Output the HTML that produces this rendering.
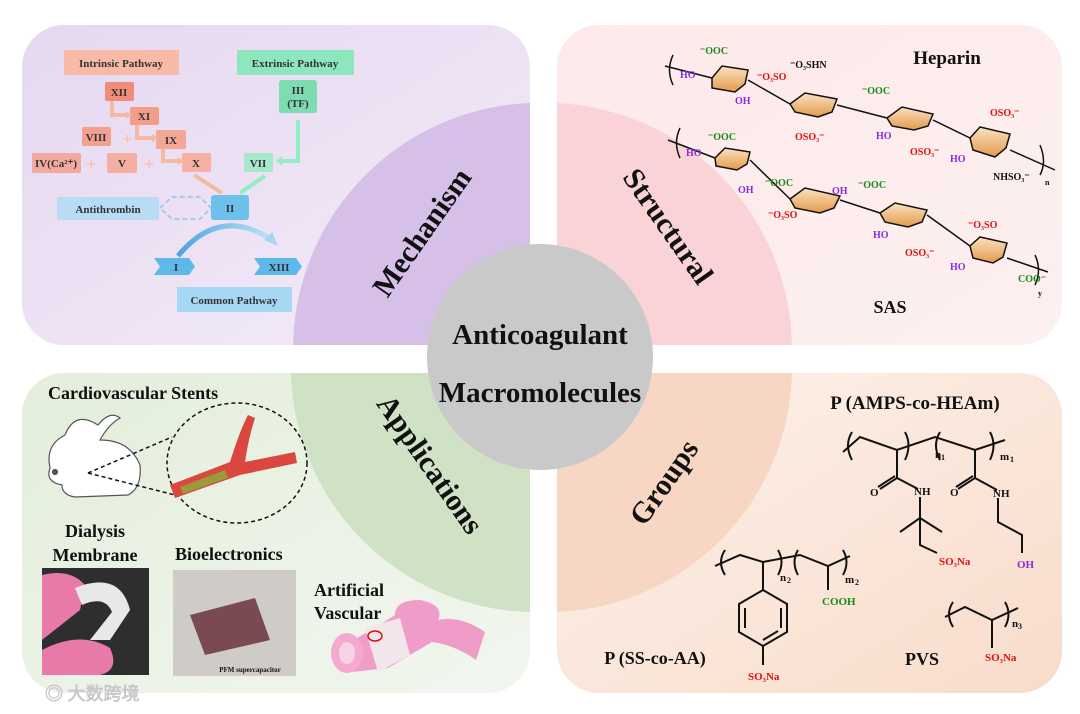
<!DOCTYPE html>
<html><head><meta charset="utf-8"><style>
html,body{margin:0;padding:0;background:#fff;}
svg{display:block;}
text{font-family:"Liberation Serif",serif;font-weight:bold;}
</style></head><body>
<svg width="1080" height="714" viewBox="0 0 1080 714" xmlns="http://www.w3.org/2000/svg">
<defs>
<linearGradient id="gp" x1="0" y1="0" x2="1" y2="1"><stop offset="0" stop-color="#e6d8f0"/><stop offset="1" stop-color="#f3ecf8"/></linearGradient>
<linearGradient id="gr" x1="0" y1="0" x2="1" y2="1"><stop offset="0" stop-color="#fde9e9"/><stop offset="1" stop-color="#fdf0f0"/></linearGradient>
<linearGradient id="gg" x1="0" y1="0" x2="1" y2="1"><stop offset="0" stop-color="#e3eedb"/><stop offset="1" stop-color="#f2f6ef"/></linearGradient>
<linearGradient id="go" x1="0" y1="0" x2="1" y2="1"><stop offset="0" stop-color="#fdf2ec"/><stop offset="1" stop-color="#f8dcca"/></linearGradient>
<linearGradient id="ring" x1="0" y1="0" x2="0" y2="1"><stop offset="0" stop-color="#fbe1c0"/><stop offset="1" stop-color="#e39a4c"/></linearGradient>
<linearGradient id="arc" x1="0" y1="0" x2="1" y2="0"><stop offset="0" stop-color="#4aa6e0"/><stop offset="1" stop-color="#bfe3f8"/></linearGradient>
</defs>
<rect width="1080" height="714" fill="#fff"/>
<!-- panels -->
<rect x="22" y="25" width="508" height="320" rx="42" fill="url(#gp)"/>
<rect x="557" y="25" width="505" height="320" rx="42" fill="url(#gr)"/>
<rect x="22" y="373" width="508" height="320" rx="42" fill="url(#gg)"/>
<rect x="557" y="373" width="505" height="320" rx="42" fill="url(#go)"/>
<!-- quarter circles -->
<path d="M530 345 L293 345 A247 247 0 0 1 530 103 Z" fill="#d7c0e8"/>
<path d="M557 345 L557 103 A247 247 0 0 1 792 345 Z" fill="#fad3d6"/>
<path d="M530 373 L530 612 A245 245 0 0 1 291 373 Z" fill="#cfe2c5"/>
<path d="M557 373 L792 373 A245 245 0 0 1 557 612 Z" fill="#f7d7c3"/>
<circle cx="540" cy="357" r="113" fill="#c9c9c9"/>
<text x="540" y="344" font-size="29" text-anchor="middle" fill="#111">Anticoagulant</text>
<text x="540" y="402" font-size="29" text-anchor="middle" fill="#111">Macromolecules</text>
<text transform="translate(430,238) rotate(-55)" font-size="30" text-anchor="middle" fill="#111">Mechanism</text>
<text transform="translate(660,232) rotate(55)" font-size="30" text-anchor="middle" fill="#111">Structural</text>
<text transform="translate(422,470) rotate(55)" font-size="30" text-anchor="middle" fill="#111">Applications</text>
<text transform="translate(672,488) rotate(-55)" font-size="30" text-anchor="middle" fill="#111">Groups</text>

<!-- Mechanism -->
<g font-size="11" fill="#333">
<rect x="64" y="50" width="115" height="25" fill="#f9b9a7"/><text x="121" y="67" text-anchor="middle">Intrinsic Pathway</text>
<rect x="237" y="50" width="117" height="25" fill="#8ee6be"/><text x="295" y="67" text-anchor="middle">Extrinsic Pathway</text>
<rect x="105" y="82" width="29" height="19" rx="2" fill="#f08c78"/><text x="119" y="96" text-anchor="middle">XII</text>
<rect x="130" y="107" width="29" height="18" rx="2" fill="#f29e8a"/><text x="144" y="120" text-anchor="middle">XI</text>
<rect x="82" y="127" width="29" height="19" rx="2" fill="#f2a090"/><text x="96" y="141" text-anchor="middle">VIII</text>
<rect x="156" y="130" width="30" height="19" rx="2" fill="#f4a797"/><text x="171" y="144" text-anchor="middle">IX</text>
<rect x="32" y="153" width="49" height="20" rx="2" fill="#f2aaa0"/><text x="56" y="167" text-anchor="middle">IV(Ca²⁺)</text>
<rect x="107" y="153" width="30" height="20" rx="2" fill="#f4aea2"/><text x="122" y="167" text-anchor="middle">V</text>
<rect x="182" y="153" width="29" height="19" rx="2" fill="#f6b1a5"/><text x="196" y="167" text-anchor="middle">X</text>
<rect x="279" y="80" width="38" height="33" rx="3" fill="#7ddcb0"/><text x="298" y="94" text-anchor="middle">III</text><text x="298" y="107" text-anchor="middle">(TF)</text>
<rect x="244" y="153" width="29" height="19" rx="2" fill="#a5e8cb"/><text x="258" y="167" text-anchor="middle">VII</text>
<rect x="57" y="197" width="102" height="23" rx="2" fill="#b8dcf6"/><text x="108" y="213" text-anchor="middle">Antithrombin</text>
<rect x="211" y="195" width="38" height="25" rx="3" fill="#6cc0ec"/><text x="230" y="212" text-anchor="middle">II</text>
<path d="M154 258 H189 L195 266.5 L189 275 H154 L160 266.5 Z" fill="#5fb8ea"/><text x="176" y="271" text-anchor="middle">I</text>
<path d="M254 258 H296 L302 266.5 L296 275 H254 L260 266.5 Z" fill="#5fb8ea"/><text x="279" y="271" text-anchor="middle">XIII</text>
<rect x="177" y="287" width="115" height="25" fill="#a6d8f4"/><text x="234" y="304" text-anchor="middle">Common Pathway</text>
</g>
<g stroke="#f7b8a0" stroke-width="4" fill="none">
<path d="M112 101 V115 H126"/><path d="M137 125 V138 H152"/><path d="M163 149 V161 H178"/><path d="M194 175 L222 193"/>
</g>
<g fill="#f7b8a0"><path d="M126 111 L132 115 L126 119Z"/><path d="M152 134 L158 138 L152 142Z"/><path d="M178 157 L184 161 L178 165Z"/>
<text x="122" y="145" font-size="18" fill="#f9c0a8">+</text><text x="86" y="170" font-size="18" fill="#f9c0a8">+</text><text x="144" y="170" font-size="18" fill="#f9c0a8">+</text></g>
<g stroke="#90edc4" stroke-width="4" fill="none"><path d="M298 120 V161 H282"/><path d="M265 176 L240 193"/></g>
<path d="M282 156 L276 161 L282 166Z" fill="#90edc4"/>
<g stroke="#8ec6ef" stroke-width="1.5" fill="none" stroke-dasharray="5 3"><path d="M160 208 L172 197 H200 L211 208 L200 219 H172 Z"/></g>
<path d="M178 256 Q220 205 272 240" stroke="url(#arc)" stroke-width="5" fill="none"/>
<path d="M264 240 L278 246 L272 232Z" fill="#a8d6f4"/>

<!-- Structural -->
<g stroke="#111" stroke-width="1.5" fill="url(#ring)">
<path d="M712 78 L722 66 L748 70 L745 84 L735 92 L712 88 Z"/>
<path d="M790 104 L805 93 L837 99 L832 112 L818 117 L795 112 Z"/>
<path d="M887 118 L902 107 L933 114 L928 126 L914 130 L892 126 Z"/>
<path d="M970 138 L980 127 L1010 134 L1006 148 L995 157 L973 150 Z"/>
<path d="M715 158 L725 148 L750 152 L747 164 L737 170 L716 166 Z"/>
<path d="M790 199 L805 188 L840 196 L834 208 L820 213 L795 208 Z"/>
<path d="M880 213 L895 203 L927 210 L922 222 L908 227 L885 222 Z"/>
<path d="M970 246 L980 237 L1007 243 L1003 257 L993 263 L973 258 Z"/>
</g>
<g stroke="#111" stroke-width="1.5" fill="none">
<path d="M673 55 Q666 70 673 85"/><path d="M665 66 L712 78"/><path d="M748 80 L790 104"/><path d="M837 105 L887 118"/><path d="M933 120 L970 138"/><path d="M1010 150 L1055 170"/><path d="M1040 145 Q1047 162 1040 175"/>
<path d="M680 128 Q673 143 680 158"/><path d="M668 140 L715 158"/><path d="M750 160 L790 199"/><path d="M840 200 L880 213"/><path d="M927 215 L970 246"/><path d="M1007 258 L1048 272"/><path d="M1035 255 Q1042 270 1035 285"/>
</g>
<g font-size="10">
<text x="700" y="54" fill="#1a8a1a">⁻OOC</text><text x="680" y="78" fill="#8a2be2">HO</text><text x="735" y="104" fill="#8a2be2">OH</text>
<text x="757" y="80" fill="#e01010">⁻O₃SO</text><text x="790" y="68" fill="#111">⁻O₃SHN</text><text x="795" y="140" fill="#e01010">OSO₃⁻</text>
<text x="862" y="94" fill="#1a8a1a">⁻OOC</text><text x="876" y="139" fill="#8a2be2">HO</text><text x="910" y="155" fill="#e01010">OSO₃⁻</text>
<text x="990" y="116" fill="#e01010">OSO₃⁻</text><text x="950" y="162" fill="#8a2be2">HO</text><text x="993" y="180" fill="#111">NHSO₃⁻</text><text x="1045" y="185" fill="#111" font-size="8">n</text>
<text x="708" y="140" fill="#1a8a1a">⁻OOC</text><text x="686" y="156" fill="#8a2be2">HO</text><text x="738" y="193" fill="#8a2be2">OH</text>
<text x="765" y="186" fill="#1a8a1a">⁻OOC</text><text x="768" y="218" fill="#e01010">⁻O₃SO</text><text x="832" y="194" fill="#8a2be2">OH</text>
<text x="858" y="188" fill="#1a8a1a">⁻OOC</text><text x="873" y="238" fill="#8a2be2">HO</text><text x="905" y="256" fill="#e01010">OSO₃⁻</text>
<text x="968" y="228" fill="#e01010">⁻O₃SO</text><text x="950" y="270" fill="#8a2be2">HO</text><text x="1018" y="282" fill="#1a8a1a">COO⁻</text><text x="1038" y="296" fill="#111" font-size="8">y</text>
</g>
<text x="947" y="64" font-size="19" text-anchor="middle" fill="#111">Heparin</text>
<text x="890" y="313" font-size="18" text-anchor="middle" fill="#111">SAS</text>

<!-- Applications -->
<text x="48" y="399" font-size="18" fill="#111">Cardiovascular Stents</text>
<g stroke="#555" stroke-width="1.2" fill="#fff">
<path d="M50 468 Q45 445 65 435 Q75 410 98 425 Q110 410 120 418 Q108 425 100 440 Q130 440 140 465 Q142 488 128 495 L75 497 Q62 495 62 485 Q45 482 50 468 Z"/>
<circle cx="55" cy="472" r="2.5" fill="#555"/>
</g>
<g stroke="#111" stroke-width="1.5" stroke-dasharray="4 3" fill="none">
<ellipse cx="237" cy="463" rx="70" ry="60"/><path d="M88 473 L172 437"/><path d="M88 473 L175 495"/>
</g>
<path d="M170 485 L230 462 Q240 430 248 415 L255 418 Q248 440 245 462 L295 452 L297 463 L240 475 L175 498 Z" fill="#d9473e"/>
<path d="M180 487 L225 470 L228 478 L183 494 Z" fill="#9a9a3a"/>
<text x="95" y="537" font-size="18" text-anchor="middle" fill="#111">Dialysis</text>
<text x="95" y="561" font-size="18" text-anchor="middle" fill="#111">Membrane</text>
<rect x="42" y="568" width="107" height="107" fill="#2e2e2e"/>
<path d="M42 575 Q70 568 85 585 L80 610 L42 640 Z" fill="#e77aa8"/>
<path d="M42 650 Q80 630 110 648 Q120 670 100 675 L42 675 Z" fill="#e77aa8"/>
<path d="M75 588 Q120 570 130 610 L110 640 L90 640 L112 612 Q105 595 82 605 Z" fill="#e8e8e8"/>
<text x="175" y="560" font-size="18" fill="#111">Bioelectronics</text>
<rect x="173" y="570" width="123" height="106" fill="#cfcbc6"/>
<path d="M190 615 L255 598 L270 640 L205 655 Z" fill="#7a4a50"/>
<text x="250" y="672" font-size="7" font-family="Liberation Sans" text-anchor="middle" fill="#111">PFM supercapacitor</text>
<text x="314" y="596" font-size="18" fill="#111">Artificial</text>
<text x="314" y="619" font-size="18" fill="#111">Vascular</text>
<path d="M345 645 Q380 625 395 615 Q395 600 420 600 Q445 605 438 620 Q460 615 485 632 L476 660 Q455 645 432 642 L388 668 L352 672 Z" fill="#ef9cc8"/>
<path d="M365 628 L400 618 L410 655 L378 672 Z" fill="#f2e6ec"/>
<ellipse cx="347" cy="653" rx="16" ry="20" fill="#f5a8d0"/><ellipse cx="347" cy="653" rx="8" ry="11" fill="#f8d3e5"/>
<ellipse cx="375" cy="636" rx="7" ry="5" fill="none" stroke="#e01010" stroke-width="1.5"/>
<text x="45" y="700" font-size="18" font-family="Liberation Sans,Noto Sans CJK SC,sans-serif" fill="#c8c8c8" font-weight="normal">◎ 大数跨境</text>

<!-- Groups -->
<text x="915" y="409" font-size="19" text-anchor="middle" fill="#111">P (AMPS-co-HEAm)</text>
<g stroke="#111" stroke-width="2" fill="none">
<path d="M843 452 L860 437 L897 450 L935 437 L975 450 L1005 440"/>
<path d="M852 432 Q844 445 852 460"/><path d="M905 432 Q912 445 905 460"/><path d="M940 432 Q932 445 940 460"/><path d="M990 432 Q997 445 990 460"/>
<path d="M897 450 L897 478 L880 489"/><path d="M895 476 L878 487"/><path d="M897 478 L918 489"/>
<path d="M920 497 L920 518 L900 532"/><path d="M920 518 L942 532"/><path d="M920 518 L920 545 L937 553"/>
<path d="M975 450 L975 478 L958 489"/><path d="M973 476 L956 487"/><path d="M975 478 L997 490"/>
<path d="M998 498 L998 522 L1022 535 L1022 553"/>
</g>
<g font-size="11" fill="#111">
<text x="935" y="458">n</text><text x="941" y="460" font-size="8">1</text><text x="1000" y="460">m</text><text x="1010" y="462" font-size="8">1</text>
<text x="870" y="496">O</text><text x="914" y="495">NH</text><text x="950" y="496">O</text><text x="993" y="497">NH</text>
<text x="939" y="565" fill="#e01010">SO₃Na</text><text x="1017" y="568" fill="#8a2be2">OH</text>
</g>
<g stroke="#111" stroke-width="2" fill="none">
<path d="M715 566 L740 555 L763 562 L800 555 L828 566 L850 556"/>
<path d="M725 550 Q717 562 725 575"/><path d="M778 550 Q785 562 778 575"/><path d="M798 550 Q791 562 798 575"/><path d="M843 550 Q850 562 843 575"/>
<path d="M763 562 L763 590"/><path d="M828 566 L828 590"/>
<path d="M763 590 L787 604 L787 632 L763 646 L739 632 L739 604 Z"/><path d="M745 608 L745 628 M781 608 L781 628 M763 640 L778 631"/>
<path d="M763 646 L763 665"/>
</g>
<g font-size="11" fill="#111">
<text x="780" y="581">n</text><text x="787" y="583" font-size="8">2</text><text x="845" y="583">m</text><text x="855" y="585" font-size="8">2</text>
<text x="822" y="605" fill="#1a8a1a">COOH</text><text x="748" y="680" fill="#e01010">SO₃Na</text>
</g>
<text x="655" y="664" font-size="18" text-anchor="middle" fill="#111">P (SS-co-AA)</text>
<g stroke="#111" stroke-width="2" fill="none">
<path d="M945 617 L965 607 L992 620 L1018 608"/><path d="M953 602 Q945 614 953 627"/><path d="M1005 602 Q1012 614 1005 627"/><path d="M992 620 L992 648"/>
</g>
<text x="1012" y="627" font-size="11" fill="#111">n</text><text x="1018" y="629" font-size="8" fill="#111">3</text>
<text x="985" y="661" font-size="11" fill="#e01010">SO₃Na</text>
<text x="922" y="665" font-size="18" text-anchor="middle" fill="#111">PVS</text>
</svg>
</body></html>
